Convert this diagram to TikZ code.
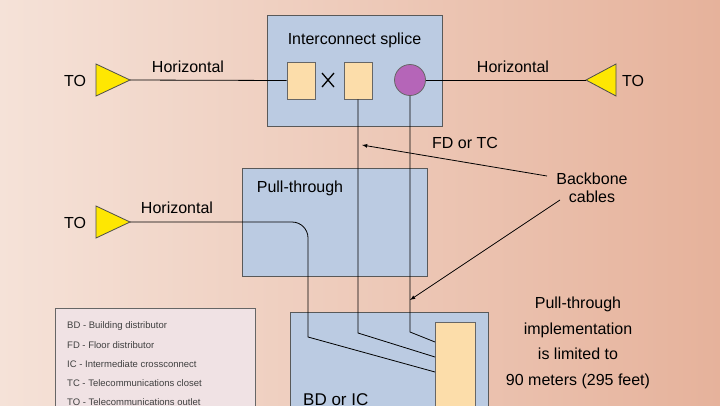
\documentclass[tikz,border=0pt]{standalone}
\usepackage{fontspec}
\setmainfont{Liberation Sans}
\begin{document}
\begin{tikzpicture}[x=1pt,y=-1pt,
  box/.style={draw=black!65,line width=1pt,fill=boxblue},
  pad/.style={draw=black!60,line width=0.8pt,fill=padyel},
  to/.style={draw=black!70,line width=0.8pt,fill=yellow!90!orange},
  wire/.style={line width=0.8pt},
  lbl/.style={font=\fontsize{16}{18}\selectfont,inner sep=0},
  leg/.style={font=\fontsize{9.5}{10}\selectfont,inner sep=0,anchor=west,text=black!75}]
\definecolor{boxblue}{HTML}{BBCBE2}
\definecolor{padyel}{HTML}{FCDDAA}
\definecolor{purp}{HTML}{B565B8}
\useasboundingbox (0,0) rectangle (720,405);
\clip (0,0) rectangle (720,405);
\shade[left color={rgb,255:red,245;green,226;blue,216}, right color={rgb,255:red,230;green,178;blue,155}] (0,0) rectangle (720,405);
% boxes
\node[box,minimum width=175pt,minimum height=111pt,anchor=north west,inner sep=0] (top) at (267,15) {};
\node[lbl] (tt) at (354.5,40) {Interconnect splice};
\node[box,minimum width=185pt,minimum height=108pt,anchor=north west,inner sep=0] (mid) at (242,168) {};
\node[lbl] (mt) at (300,188) {Pull-through};
\node[box,minimum width=198pt,minimum height=110pt,anchor=north west,inner sep=0] (bot) at (290,312) {};
\node[lbl,anchor=west,font=\fontsize{17}{19}\selectfont] (bt) at (303,400) {BD or IC};
\node[draw=black!60,line width=1pt,fill={rgb,255:red,240;green,226;blue,228},minimum width=200pt,minimum height=110pt,anchor=north west,inner sep=0] (leg) at (55,308) {};
% pads
\node[pad,minimum width=28pt,minimum height=37pt,inner sep=0] (p1) at (301,80.5) {};
\node[pad,minimum width=28pt,minimum height=37pt,inner sep=0] (p2) at (358,80.5) {};
\node[circle,draw=black!60,line width=0.8pt,fill=purp,minimum size=31pt,inner sep=0] (c1) at (410,80) {};
\node[pad,minimum width=40pt,minimum height=100pt,inner sep=0,anchor=north west] (p3) at (435,322) {};
\draw[line width=1.3pt] (322,73)--(334,87) (322,87)--(334,73);
% TOs
\draw[to] (96,64)--(130,80)--(96,96)--cycle;
\coordinate (t1) at (130,80);
\draw[to] (616,64)--(586,80)--(616,96)--cycle;
\coordinate (t2) at (586,80);
\draw[to] (96,206)--(130,222)--(96,238)--cycle;
\coordinate (t3) at (130,222);
\node[lbl] (to1) at (75,81) {TO};
\node[lbl] (to2) at (633,81) {TO};
\node[lbl] (to3) at (75,223) {TO};
\node[lbl] (h1) at (188,67) {Horizontal};
\node[lbl] (h2) at (513,67) {Horizontal};
\node[lbl] (h3) at (177,208) {Horizontal};
% wires
\draw[wire] (t1)--(p1.west);
\draw[wire] (c1.east)--(t2);
\draw[wire] (t3)--(292,222) to[out=0,in=90] (308,238) -- (308,337) -- (p3.west |- 0,372);
\draw[wire] (p2.south)--(358,333)--(p3.west |- 0,357);
\draw[wire] (c1.south)--(410,332)--(p3.west |- 0,342);
% labels
\node[lbl] (fd) at (465,143) {FD or TC};
\node[lbl,align=center] (bb) at (592,188) {Backbone\\cables};
\draw[wire,-latex] (547,176)--(362,145);
\draw[wire,-latex] (560,200)--(410,300);
\node[lbl,align=center,font=\fontsize{16}{25.5}\selectfont] (pt) at (578,343) {Pull-through\\implementation\\is limited to\\90 meters (295 feet)};
% legend
\node[leg] (l1) at (67,326) {BD - Building distributor};
\node[leg] (l2) at (67,345) {FD - Floor distributor};
\node[leg] (l3) at (67,364) {IC - Intermediate crossconnect};
\node[leg] (l4) at (67,383) {TC - Telecommunications closet};
\node[leg] (l5) at (67,402) {TO - Telecommunications outlet};
\end{tikzpicture}
\end{document}
